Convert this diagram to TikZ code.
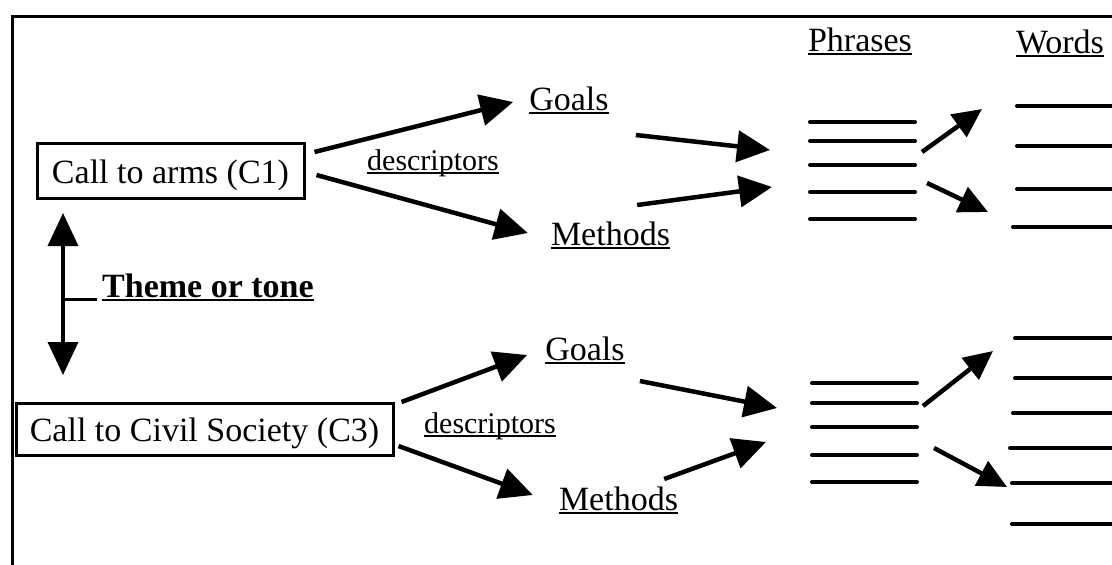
\documentclass[tikz,border=0pt]{standalone}
\usepackage{fontspec}
\setmainfont{Liberation Serif}
\usetikzlibrary{arrows.meta,calc}
\newsavebox\ulbox
\newcommand\ulx[1]{\sbox\ulbox{#1}\rlap{\rule[-4pt]{\wd\ulbox}{2pt}}\usebox\ulbox}
\tikzset{
  frame/.style={line width=3pt},
  boxnode/.style={draw, line width=3pt, inner sep=0pt, text height=25pt, text depth=0pt,
    font=\fontsize{34}{40}\selectfont},
  lbl/.style={anchor=base, inner sep=0pt, font=\fontsize{34}{40}\selectfont},
  smalllbl/.style={anchor=base, inner sep=0pt, font=\fontsize{30}{36}\selectfont},
  arr/.style={line width=4.5pt, -{Triangle[length=33pt,width=31pt]}},
  arrsm/.style={line width=4.5pt, -{Triangle[length=29pt,width=27pt]}},
  dblarr/.style={line width=3.6pt, {Triangle[length=33pt,width=30pt]}-{Triangle[length=33pt,width=30pt]}},
  bar/.style={line width=4pt, line cap=round},
}
\begin{document}
\begin{tikzpicture}[x=1pt, y=-1pt]
\useasboundingbox (0,0) rectangle (1112,565);
% frame (right and bottom sides cut off)
\draw[frame] (12,566) -- (12,16) -- (1113,16);

% boxes
\node[boxnode, minimum width=267pt, minimum height=55pt] (c1) at (170.5,170.5) {Call to arms (C1)};
\node[boxnode, minimum width=377pt, minimum height=52pt] (c3) at (204.5,429) {Call to Civil Society (C3)};

% headings
\node[lbl] (phr) at (860,51) {\ulx{Phrases}};
\node[lbl] (wrd) at (1060,53) {\ulx{Words}};

% top branch labels
\node[lbl] (g1) at (569,110) {\ulx{Goals}};
\node[lbl] (m1) at (610.5,245) {\ulx{Methods}};
\node[smalllbl] (d1) at (433,170) {\ulx{descriptors}};

% bottom branch labels
\node[lbl] (g3) at (585,360) {\ulx{Goals}};
\node[lbl] (m3) at (618.5,510) {\ulx{Methods}};
\node[smalllbl] (d3) at (490,433) {\ulx{descriptors}};

% theme
\node[lbl, anchor=base west] (th) at (102,297) {\ulx{\bfseries Theme or tone}};
\coordinate (tu) at (63,213);
\coordinate (td) at (63,375);
\coordinate (tm) at (63,299);
\draw[dblarr] (tu) -- (td);
\draw[line width=3pt] (tm) -- ($(th.base west)+(-5,2)$);

% phrase and word lines, top
\foreach \y in {122,141,165,192,219} \draw[bar] (810,\y) -- (915,\y);
\foreach \y/\x in {106/1017,146/1017,189/1017,227/1013} \draw[bar] (\x,\y) -- (1116,\y);
% phrase and word lines, bottom
\foreach \y in {383,403,427,455,482} \draw[bar] (812,\y) -- (917,\y);
\foreach \y/\x in {338/1015,378/1015,413/1013,448/1010,483/1012,524/1012} \draw[bar] (\x,\y) -- (1116,\y);

% arrow end points near the phrase / word groups
\coordinate (p1a) at (770,150);
\coordinate (p1b) at (772,187);
\coordinate (p1o) at (922,152);
\coordinate (p1p) at (927,183);
\coordinate (w1a) at (982,109);
\coordinate (w1b) at (988,212);
\coordinate (p3a) at (777,408);
\coordinate (p3b) at (766,442);
\coordinate (p3o) at (923,406);
\coordinate (p3p) at (934,448);
\coordinate (w3a) at (993,351);
\coordinate (w3b) at (1007,487);

% top arrows
\draw[arr] ($(c1.east)+(9,-18.5)$) -- ($(g1.base west)+(-16,-8)$);
\draw[arr] ($(c1.east)+(11,4.5)$) -- ($(m1.base west)+(-23,-12)$);
\draw[arr] ($(g1.base east)+(27,25)$) -- (p1a);
\draw[arr] ($(m1.base east)+(-33,-40)$) -- (p1b);
\draw[arrsm] (p1o) -- (w1a);
\draw[arrsm] (p1p) -- (w1b);

% bottom arrows
\draw[arr] ($(c3.east)+(7,-27)$) -- ($(g3.base west)+(-18,-5)$);
\draw[arr] ($(c3.east)+(4,17)$) -- ($(m3.base west)+(-26,-15)$);
\draw[arr] ($(g3.base east)+(15,21)$) -- (p3a);
\draw[arr] ($(m3.base east)+(-14,-31)$) -- (p3b);
\draw[arrsm] (p3o) -- (w3a);
\draw[arrsm] (p3p) -- (w3b);
\end{tikzpicture}
\end{document}
